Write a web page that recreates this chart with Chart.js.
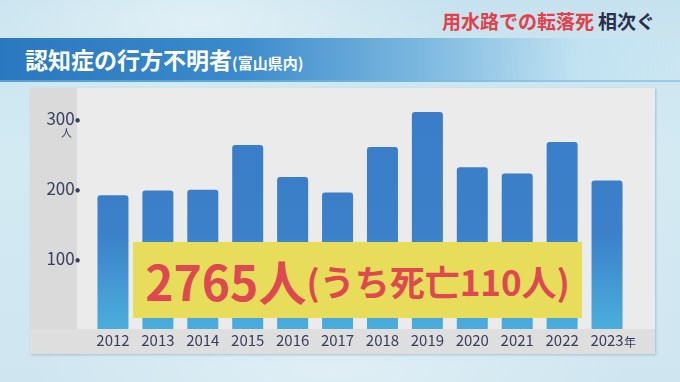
<!DOCTYPE html>
<html lang="ja">
<head>
<meta charset="utf-8">
<script src="https://cdn.jsdelivr.net/npm/chart.js@4.4.1/dist/chart.umd.min.js"></script>
<style>
  html, body { margin: 0; padding: 0; }
  body {
    width: 680px; height: 382px; overflow: hidden; position: relative;
    font-family: "Noto Sans CJK JP", "Noto Sans", sans-serif;
    background:
      radial-gradient(ellipse 260px 90px at 200px 20px, rgba(255,255,255,0.45), rgba(255,255,255,0)),
      radial-gradient(ellipse 300px 60px at 330px 372px, rgba(255,255,255,0.35), rgba(255,255,255,0)),
      linear-gradient(180deg, #c6e2ee 0%, #d3eaf3 40%, #cfe6f0 100%);
  }
  #headline {
    position: absolute; right: 25px; top: 7px;
    font-size: 19px; font-weight: bold;
  }
  #headline .red { color: #e2404b; }
  #headline .dark { color: #2b2f4c; margin-left: 4px; }
  #banner {
    position: absolute; left: 0; top: 38px; width: 680px; height: 42px;
    background: linear-gradient(90deg, #2a78bf 0%, #3b8acb 35%, #7cb8df 62%, rgba(190,225,242,0.7) 85%, rgba(200,230,243,0.4) 100%);
    border-bottom: 2px solid rgba(120,185,225,0.6);
  }
  #title {
    position: absolute; left: 25px; top: 42px; color: #fff;
    font-size: 23px; font-weight: bold; white-space: nowrap;
  }
  #title small { font-size: 15px; font-weight: bold; }
  #panel {
    position: absolute; left: 30px; top: 88px; width: 625px; height: 266px;
    background:
      linear-gradient(180deg, rgba(0,0,0,0) 0px, rgba(0,0,0,0) 241px, #dedede 241px),
      linear-gradient(90deg, #dadada 0px, #dadada 47px, #ebebeb 47px);
    box-shadow: 1px 1px 2px rgba(120,150,170,0.5);
  }
  #chart { position: absolute; left: 30px; top: 88px; }
  #unit { position: absolute; left: 61px; top: 124px; font-size: 11px; color: #3b3f5e; }
  #nen { position: absolute; left: 624px; top: 333px; font-size: 12px; color: #3b3f5e; }
  #total {
    position: absolute; left: 133px; top: 242px; width: 449px; height: 76px;
    background: #e8dc5b; color: #de4850; font-weight: bold;
    display: flex; align-items: center; justify-content: center; white-space: nowrap;
  }
  #total .big { font-size: 48px; }
  #total .mid { font-size: 35px; }
</style>
</head>
<body>
<div id="headline"><span class="red">用水路での転落死</span><span class="dark">相次ぐ</span></div>
<div id="banner"></div>
<div id="title">認知症の行方不明者<small>(富山県内)</small></div>
<div id="panel"></div>
<canvas id="chart" width="625" height="266"></canvas>
<div id="unit">人</div>
<div id="nen">年</div>
<div id="total"><span class="big">2765人</span><span class="mid">(うち死亡110人)</span></div>
<script>
const years = ['2012', '2013', '2014', '2015', '2016', '2017', '2018', '2019', '2020', '2021', '2022', '2023'];
const missing = [191, 198, 199, 263, 217, 195, 260, 310, 231, 222, 267, 212];
const tickValues = [100, 200, 300];

const textColor = '#3b3f5e';

function barFill(context) {
  const { ctx, chartArea } = context.chart;
  if (!chartArea) return '#3a7ec9';
  const g = ctx.createLinearGradient(0, chartArea.top, 0, chartArea.bottom);
  g.addColorStop(0, '#3a7cc8');
  g.addColorStop(0.6, '#3b80c9');
  g.addColorStop(1, '#4aaedc');
  return g;
}

new Chart(document.getElementById('chart'), {
  type: 'bar',
  data: {
    labels: years,
    datasets: [
      {
        data: missing,
        backgroundColor: barFill,
        borderRadius: { topLeft: 3, topRight: 3 },
        borderSkipped: 'bottom',
        barPercentage: 0.69,
        categoryPercentage: 1,
      },
    ],
  },
  options: {
    responsive: false,
    animation: false,
    layout: { padding: { left: 0, right: 25.5, top: 3, bottom: 0 } },
    plugins: { legend: { display: false }, tooltip: { enabled: false } },
    scales: {
      x: {
        grid: { display: false, drawTicks: false },
        border: { display: false },
        ticks: {
          color: textColor,
          font: { family: '"Noto Sans CJK JP", "Noto Sans", sans-serif', size: 15 },
          padding: 2,
        },
        afterFit: (scale) => {
          scale.height = 25;
          scale.paddingLeft = 0;
          scale.paddingRight = 0;
        },
      },
      y: {
        min: 0,
        max: 340,
        grid: { display: false, drawTicks: false },
        border: { display: false },
        ticks: {
          stepSize: 100,
          color: textColor,
          padding: 10,
          font: { family: '"Noto Sans CJK JP", "Noto Sans", sans-serif', size: 17 },
          callback: (v) => (tickValues.includes(v) ? v + '•' : null),
        },
        afterFit: (scale) => {
          scale.width = 60.5;
          scale.paddingTop = 0;
          scale.paddingBottom = 0;
        },
      },
    },
  },
});
</script>
</body>
</html>
